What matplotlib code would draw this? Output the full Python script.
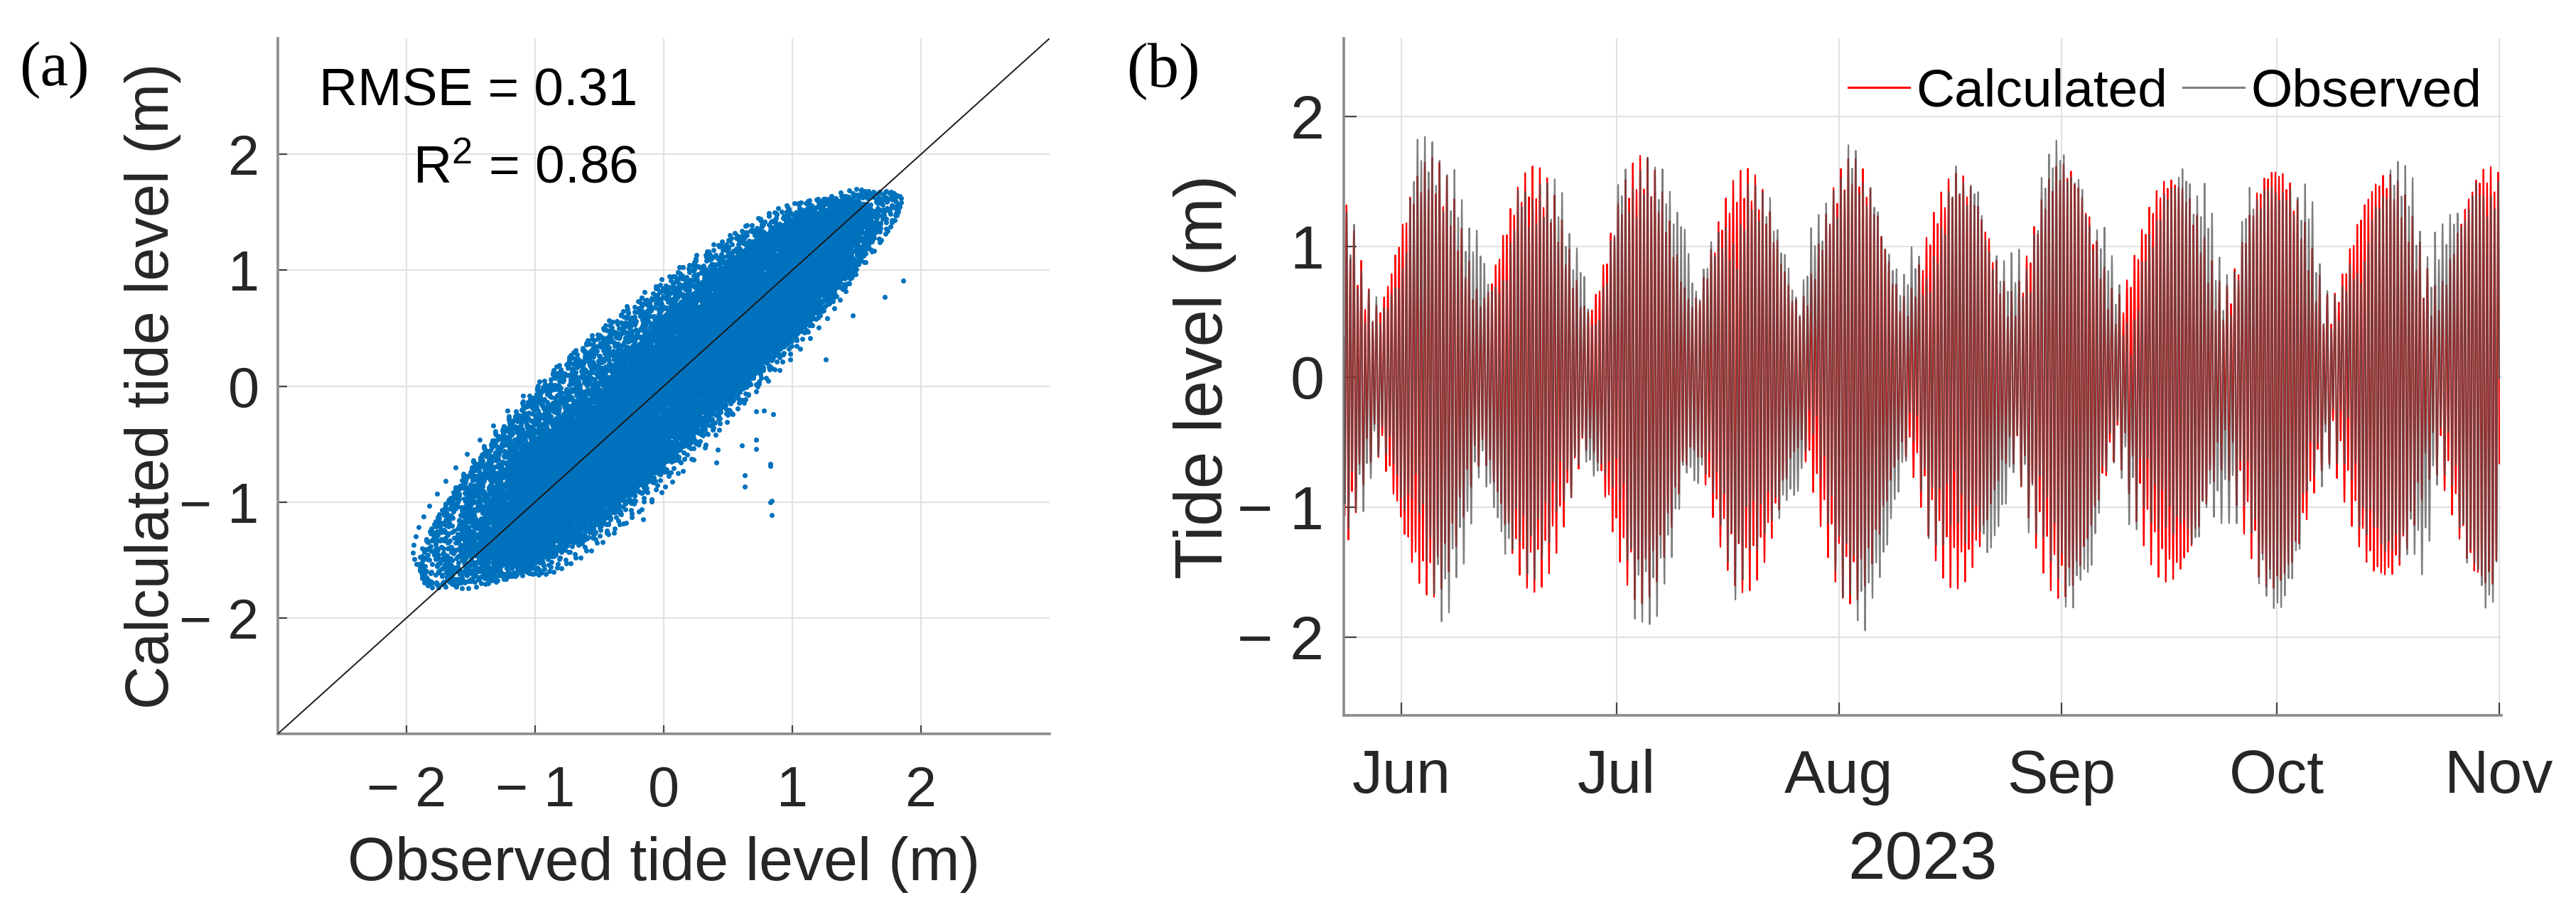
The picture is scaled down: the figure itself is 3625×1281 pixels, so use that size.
import numpy as np
import matplotlib
matplotlib.use('Agg')
import matplotlib.pyplot as plt
import matplotlib.dates as mdates
from matplotlib.ticker import FixedLocator, FixedFormatter

plt.rcParams['font.family'] = ['Liberation Sans', 'DejaVu Sans']
plt.rcParams['mathtext.fontset'] = 'custom'
plt.rcParams['mathtext.rm'] = 'Liberation Sans'
plt.rcParams['mathtext.it'] = 'Liberation Sans:italic'
plt.rcParams['mathtext.bf'] = 'Liberation Sans:bold'

# ---------------- data (harmonic constants read from the record) ----------------
constituents = ['M2', 'S2', 'N2', 'K1', 'O1', 'M4', 'MSf', 'Mm']
speed_deg_per_hour = [28.9841042, 30.0, 28.4397295, 15.0410686, 13.9430356,
                      57.9682084, 1.0158958, 0.5443747]
calc_amplitude_m = [1.03, 0.50, 0.05, 0.12, 0.09, 0.00, 0.00, 0.00]
calc_phase_deg = [288.3, 216.0, 74.9, 100.0, 80.0, 0.0, 0.0, 0.0]
obs_amplitude_m = [1.03, 0.41, 0.19, 0.13, 0.10, 0.05, 0.05, 0.04]
obs_phase_deg = [305.3, 253.0, 91.9, 108.0, 86.0, 200.0, 221.9, 77.1]

# non-tidal (meteorological) residual in the observed record
residual_period_days = [2.9, 4.6, 6.8, 9.7, 17.5]
residual_amplitude_m = [0.06, 0.09, 0.11, 0.10, 0.08]
residual_phase_deg = [147.7, 101.0, 227.1, 354.7, 263.1]

record_start = '2023-05-24T00:00'
record_end = '2023-11-01T00:00'
sample_minutes = 10

# isolated points off the main cloud (observed, calculated)
outlier_observed = [0.83, 0.83, 0.84, 0.83, 0.84, 0.63, 0.63, 0.72, 0.72, 0.61,
                    0.78, 0.85, 0.72, 1.26, 1.47, 1.72, 1.86, 0.41, 0.42, -0.16]
outlier_calculated = [-0.67, -0.69, -0.99, -1.00, -1.11, -0.77, -0.87, -0.46, -0.54, -0.51,
                      -0.21, -0.24, -0.22, 0.23, 0.61, 0.77, 0.91, -0.66, -0.55, -1.15]

level_ticks = [-2, -1, 0, 1, 2]
level_tick_labels = ['\u2212 2', '\u2212 1', '0', '1', '2']
rmse_text = 'RMSE = 0.31'
r2_text = r'R$^{\mathregular{2}}$ = 0.86'

# ---------------- series reconstruction ----------------
times = np.arange(np.datetime64(record_start), np.datetime64(record_end) + np.timedelta64(1, 'm'),
                  np.timedelta64(sample_minutes, 'm'))
hours = (times - times[0]) / np.timedelta64(1, 'h')


def synth(speeds, amps, phases):
    h = np.zeros_like(hours, dtype=float)
    for w, a, g in zip(speeds, amps, phases):
        h += a * np.cos(np.radians(w * hours - g))
    return h


residual_speed = [360.0 / (p * 24.0) for p in residual_period_days]
calculated = synth(speed_deg_per_hour, calc_amplitude_m, calc_phase_deg)
observed = (synth(speed_deg_per_hour, obs_amplitude_m, obs_phase_deg)
            + synth(residual_speed, residual_amplitude_m, residual_phase_deg))

scatter_obs = np.concatenate([observed, outlier_observed])
scatter_calc = np.concatenate([calculated, outlier_calculated])

# ---------------- figure ----------------
W, H, DPI = 3625, 1281, 200
fig = plt.figure(figsize=(W / DPI, H / DPI), dpi=DPI)

spine_col = '#8a8a8a'
txt_col = '#262626'
grid_col = '#e2e2e2'

ax1 = fig.add_axes([391 / W, 1 - 1033 / H, (1477 - 391) / W, (1033 - 54) / H])
ax2 = fig.add_axes([1891 / W, 1 - 1007 / H, (3520 - 1891) / W, (1007 - 54) / H])

for ax in (ax1, ax2):
    ax.set_axisbelow(True)
    ax.grid(True, color=grid_col, lw=0.75)
    for s in ('top', 'right'):
        ax.spines[s].set_visible(False)
    for s in ('left', 'bottom'):
        ax.spines[s].set_color(spine_col)
        ax.spines[s].set_linewidth(1.3)

# ---- panel (a) ----
ax1.scatter(scatter_obs, scatter_calc, s=6.5, c='#0072BD', linewidths=0, zorder=2)
ax1.plot([-3, 3], [-3, 3], color='#1a1a1a', lw=0.7, zorder=3)
ax1.set_xlim(-3, 3)
ax1.set_ylim(-3, 3)
for axis in (ax1.xaxis, ax1.yaxis):
    axis.set_major_locator(FixedLocator(level_ticks))
    axis.set_major_formatter(FixedFormatter(level_tick_labels))
ax1.tick_params(axis='both', direction='in', length=4.5, width=0.8, color='#444444',
                labelsize=28.5, labelcolor=txt_col)
ax1.tick_params(axis='x', pad=16)
ax1.tick_params(axis='y', pad=9.5)
ax1.set_xlabel('Observed tide level (m)', fontsize=31, color=txt_col)
ax1.xaxis.label.set_va('baseline')
ax1.xaxis.set_label_coords(0.5, -0.2104)
ax1.set_ylabel('Calculated tide level (m)', fontsize=30.5, color=txt_col)
ax1.yaxis.label.set_va('baseline')
ax1.yaxis.set_label_coords(-0.1418, 0.5)
ax1.text(0.466, 0.905, rmse_text, transform=ax1.transAxes, ha='right', va='baseline',
         fontsize=27, color='black')
ax1.text(0.466, 0.792, r2_text, transform=ax1.transAxes, ha='right', va='baseline',
         fontsize=27, color='black')

# ---- panel (b) ----
ax2.plot(times, calculated, color='#ff0000', lw=0.75, alpha=1.0, label='Calculated', zorder=2)
ax2.plot(times, observed, color='#4d4d4d', lw=0.75, alpha=0.72, label='Observed', zorder=3)
ax2.set_xlim(np.datetime64('2023-05-24T00:00'), np.datetime64('2023-11-01T07:00'))
ax2.set_ylim(-2.6, 2.6)
ax2.yaxis.set_major_locator(FixedLocator(level_ticks))
ax2.yaxis.set_major_formatter(FixedFormatter(level_tick_labels))
ax2.xaxis.set_major_locator(mdates.MonthLocator(bymonthday=1))
ax2.xaxis.set_major_formatter(mdates.DateFormatter('%b'))
ax2.tick_params(axis='both', direction='in', length=6.5, width=0.8, color='#444444',
                labelsize=31, labelcolor=txt_col)
ax2.tick_params(axis='x', pad=17)
ax2.tick_params(axis='y', pad=10)
ax2.set_xlabel('2023', fontsize=34, color=txt_col)
ax2.xaxis.label.set_va('baseline')
ax2.xaxis.set_label_coords(0.5, -0.2413)
ax2.set_ylabel('Tide level (m)', fontsize=34, color=txt_col)
ax2.yaxis.label.set_va('baseline')
ax2.yaxis.set_label_coords(-0.105, 0.5)
leg = ax2.legend(loc='center right', bbox_to_anchor=(0.983, 0.92), ncol=2, frameon=False,
                 fontsize=27, handlelength=1.15, handletextpad=0.12, columnspacing=0.3,
                 borderaxespad=0, borderpad=0)
for ln in leg.get_lines():
    ln.set_linewidth(1.1)

# ---- panel letters ----
fig.text(27 / W, 1 - 120 / H, '(a)', family='Liberation Serif', fontsize=32,
         ha='left', va='baseline', color='black')
fig.text(1585 / W, 1 - 122 / H, '(b)', family='Liberation Serif', fontsize=32,
         ha='left', va='baseline', color='black')

fig.savefig('out.png', dpi=DPI)
